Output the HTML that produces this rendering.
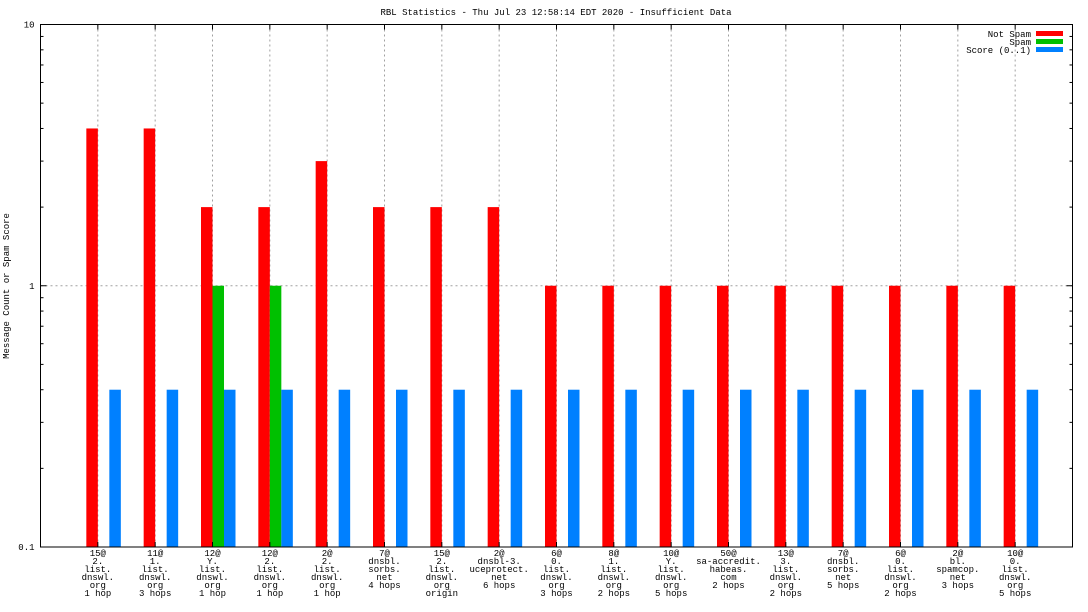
<!DOCTYPE html>
<html><head><meta charset="utf-8"><style>
html,body{margin:0;padding:0;background:#fff;}
svg{display:block;font-family:"Liberation Mono","DejaVu Sans Mono",monospace;}
</style></head><body>
<svg id="chart" width="1088" height="612" viewBox="0 0 1088 612" xmlns="http://www.w3.org/2000/svg">
<rect width="1088" height="612" fill="#fff"/>
<text x="556" y="15" font-size="9" text-anchor="middle">RBL Statistics - Thu Jul 23 12:58:14 EDT 2020 - Insufficient Data</text>
<text transform="translate(9,286) rotate(-90)" font-size="9" text-anchor="middle">Message Count or Spam Score</text>
<g id="grid"></g><g id="bars"></g><g id="axes"></g><g id="xlabels"></g>
<g font-size="9" text-anchor="end">
<text x="1031" y="37">Not Spam</text>
<rect x="1036" y="31" width="27" height="5" fill="#ff0000"/>
<text x="1031" y="45">Spam</text>
<rect x="1036" y="39" width="27" height="5" fill="#00c000"/>
<text x="1031" y="53">Score (0..1)</text>
<rect x="1036" y="47" width="27" height="5" fill="#0080ff"/>
</g>
</svg>
<script>
const categories=[
["15@","2.","list.","dnswl.","org","1 hop"],["11@","1.","list.","dnswl.","org","3 hops"],["12@","Y.","list.","dnswl.","org","1 hop"],["12@","2.","list.","dnswl.","org","1 hop"],["2@","2.","list.","dnswl.","org","1 hop"],["7@","dnsbl.","sorbs.","net","4 hops"],["15@","2.","list.","dnswl.","org","origin"],["2@","dnsbl-3.","uceprotect.","net","6 hops"],["6@","0.","list.","dnswl.","org","3 hops"],["8@","1.","list.","dnswl.","org","2 hops"],["10@","Y.","list.","dnswl.","org","5 hops"],["50@","sa-accredit.","habeas.","com","2 hops"],["13@","3.","list.","dnswl.","org","2 hops"],["7@","dnsbl.","sorbs.","net","5 hops"],["6@","0.","list.","dnswl.","org","2 hops"],["2@","bl.","spamcop.","net","3 hops"],["10@","0.","list.","dnswl.","org","5 hops"]];
const notSpam=[4,4,2,2,3,2,2,2,1,1,1,1,1,1,1,1,1];
const spam=[0,0,1,1,0,0,0,0,0,0,0,0,0,0,0,0,0];
const score=[0.4,0.4,0.4,0.4,0.4,0.4,0.4,0.4,0.4,0.4,0.4,0.4,0.4,0.4,0.4,0.4,0.4];
const yTicks=[0.1,1,10];
const yTickLabels=["0.1","1","10"];
const L=40.5,R=1072.5,T=24.5,B=547;
const NS="http://www.w3.org/2000/svg";
function x(i){return L+(R-L)*(i+1)/(categories.length+1);}
function y(v){return B-(Math.log10(v)+1)/2*(B-T);}
function mk(tag,attrs,parent){const e=document.createElementNS(NS,tag);for(const k in attrs)e.setAttribute(k,attrs[k]);parent.appendChild(e);return e;}
const grid=document.getElementById('grid'),bars=document.getElementById('bars'),axes=document.getElementById('axes'),xl=document.getElementById('xlabels');
categories.forEach((c,i)=>{
 const g=mk('line',{x1:x(i),x2:x(i),y1:T,y2:B,stroke:'#a0a0a0','stroke-dasharray':'2,3'},grid);
 
 
});
const hg=mk('line',{x1:L,x2:R,y1:y(1),y2:y(1),stroke:'#a0a0a0','stroke-dasharray':'2,3'},grid);


const bw=11.5;
categories.forEach((c,i)=>{
 const cx=x(i);
 if(notSpam[i]>0){const r=mk('rect',{x:cx-bw,y:y(notSpam[i]),width:bw,height:B-y(notSpam[i]),fill:'#ff0000'},bars);
 
 }
 if(spam[i]>0){const r=mk('rect',{x:cx,y:y(spam[i]),width:bw,height:B-y(spam[i]),fill:'#00c000'},bars);
 
 }
 if(score[i]>0){const r=mk('rect',{x:cx+bw,y:y(score[i]),width:bw,height:B-y(score[i]),fill:'#0080ff'},bars);
 
 }
 const t=mk('text',{x:cx,y:556,'font-size':9,'text-anchor':'middle'},xl);
 
 
 c.forEach((s,j)=>{const ts=mk('tspan',{x:cx,dy:j?8:0},t);ts.textContent=s;});
 mk('line',{x1:cx,x2:cx,y1:T,y2:T+5,stroke:'#000'},axes);
 mk('line',{x1:cx,x2:cx,y1:B,y2:B-5,stroke:'#000'},axes);
});
const fr=mk('rect',{x:L,y:T,width:R-L,height:B-T,fill:'none',stroke:'#000'},axes);


yTicks.forEach((v,k)=>{
 const t=mk('text',{x:L-6,y:y(v)+3,'font-size':9,'text-anchor':'end'},axes);
 
 
 t.textContent=yTickLabels[k];
 mk('line',{x1:L,x2:L+6,y1:y(v),y2:y(v),stroke:'#000'},axes);
 mk('line',{x1:R,x2:R-6,y1:y(v),y2:y(v),stroke:'#000'},axes);
 if(v<10)for(let m=2;m<10;m++){const yy=y(v*m);
  mk('line',{x1:L,x2:L+3,y1:yy,y2:yy,stroke:'#000'},axes);
  mk('line',{x1:R,x2:R-3,y1:yy,y2:yy,stroke:'#000'},axes);}
});
</script>
</body></html>
